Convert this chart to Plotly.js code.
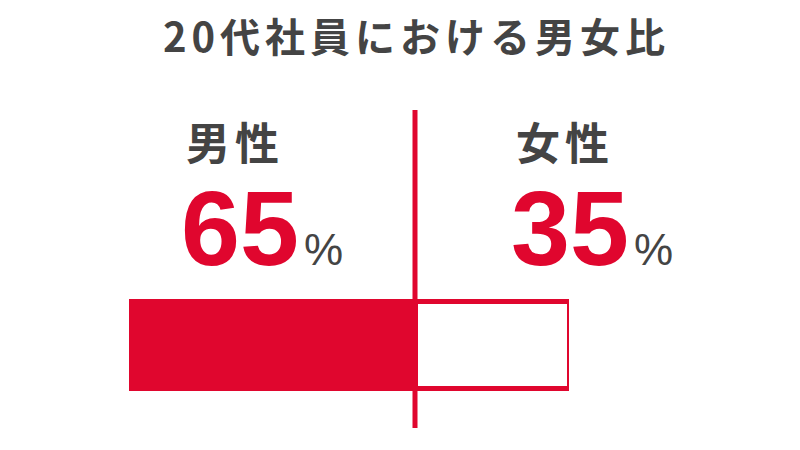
<!DOCTYPE html>
<html>
<head>
<meta charset="utf-8">
<script src="https://cdn.plot.ly/plotly-3.0.1.min.js"></script>
<style>
  html, body { margin: 0; padding: 0; background: #fff; }
  #chart { width: 800px; height: 450px; }
  .gtitle { letter-spacing: 5px; }
</style>
</head>
<body>
<div id="chart"></div>
<script>
// 20代社員の男女比
const groups = ['男性', '女性'];
const shares = [65, 35];
const category = ['20代'];

const RED = '#E0062E';
const GRAY = '#444444';
const JP_FONT = '"Noto Sans CJK JP", "Noto Sans", sans-serif';
const NUM_FONT = '"Liberation Sans", Arial, sans-serif';

// filled bar for men, outlined bar for women, stacked from 0
const traces = [
    {
        type: 'bar',
        orientation: 'h',
        y: category,
        x: [shares[0]],
        width: 1,
        marker: { color: RED, line: { color: RED, width: 5 } },
        hoverinfo: 'skip'
    },
    {
        type: 'bar',
        orientation: 'h',
        y: category,
        x: [shares[1]],
        width: 1,
        marker: { color: '#ffffff', line: { color: RED, width: 5 } },
        hoverinfo: 'skip'
    }
];

// label positions in paper space (layout only)
const labelX = [0.241, 0.990];
const valueX = [0.1136, 0.8636];

const annotations = [];
groups.forEach((g, i) => {
    annotations.push({
        xref: 'paper', yref: 'paper',
        x: labelX[i], y: 0.902,
        xanchor: 'center', yanchor: 'middle',
        text: '<span style="letter-spacing:5px">' + g + '</span>',
        showarrow: false,
        font: { family: JP_FONT, size: 44, color: GRAY, weight: 'bold' }
    });
    annotations.push({
        xref: 'paper', yref: 'paper',
        x: valueX[i], y: 0.629,
        xanchor: 'left', yanchor: 'middle',
        text: '<b>' + shares[i] + '</b><span style="font-size:18px"> </span>' +
              '<span style="font-size:44px;color:' + GRAY + '">%</span>',
        showarrow: false,
        font: { family: NUM_FONT, size: 106, color: RED }
    });
});

const layout = {
    width: 800,
    height: 450,
    paper_bgcolor: '#ffffff',
    plot_bgcolor: 'rgba(0,0,0,0)',
    margin: { t: 110, b: 22, l: 129, r: 231 },
    showlegend: false,
    barmode: 'stack',
    title: {
        text: '20代社員における男女比',
        font: { family: JP_FONT, size: 40, color: GRAY, weight: 'bold' },
        x: 0.5206, xanchor: 'center',
        y: 0.9156, yanchor: 'middle', yref: 'container'
    },
    xaxis: {
        range: [0, 100],
        showgrid: false, zeroline: false, showline: false,
        showticklabels: false, ticks: '', fixedrange: true
    },
    yaxis: {
        type: 'category',
        range: [-0.954, 2.701],
        showgrid: false, zeroline: false, showline: false,
        showticklabels: false, ticks: '', fixedrange: true
    },
    shapes: [{
        type: 'line',
        xref: 'x', yref: 'paper',
        x0: shares[0], x1: shares[0],
        y0: 0, y1: 1,
        line: { color: RED, width: 5 },
        layer: 'above'
    }],
    annotations: annotations
};

Plotly.newPlot('chart', traces, layout, { displayModeBar: false, staticPlot: true });
</script>
</body>
</html>
